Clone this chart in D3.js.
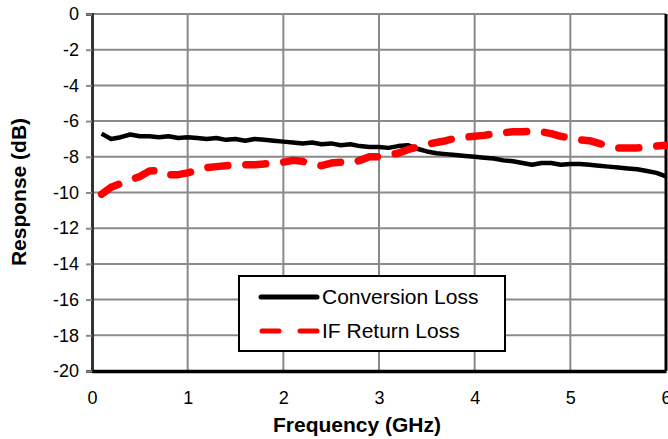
<!DOCTYPE html>
<html>
<head>
<meta charset="utf-8">
<script src="https://cdn.jsdelivr.net/npm/d3@7"></script>
<style>
  body { margin: 0; background: #fff; }
  svg text { font-family: "Liberation Sans", Arial, sans-serif; }
</style>
</head>
<body>
<div id="chart"></div>
<script>
// frequency points (GHz)
const freqs = [0.1,0.2,0.3,0.4,0.5,0.6,0.7,0.8,0.9,1.0,
               1.1,1.2,1.3,1.4,1.5,1.6,1.7,1.8,1.9,2.0,
               2.1,2.2,2.3,2.4,2.5,2.6,2.7,2.8,2.9,3.0,
               3.1,3.2,3.3,3.4,3.5,3.6,3.7,3.8,3.9,4.0,
               4.1,4.2,4.3,4.4,4.5,4.6,4.7,4.8,4.9,5.0,
               5.1,5.2,5.3,5.4,5.5,5.6,5.7,5.8,5.9,6.0]

const conversionLoss = [-6.7,-7.0,-6.9,-6.75,-6.85,-6.85,-6.9,-6.85,-6.95,-6.9,
                        -6.95,-7.0,-6.95,-7.05,-7.0,-7.1,-7.0,-7.05,-7.1,-7.15,
                        -7.2,-7.25,-7.2,-7.3,-7.25,-7.35,-7.3,-7.4,-7.45,-7.45,
                        -7.5,-7.4,-7.35,-7.55,-7.7,-7.8,-7.85,-7.9,-7.95,-8.0,
                        -8.05,-8.1,-8.2,-8.25,-8.35,-8.45,-8.35,-8.35,-8.45,-8.4,
                        -8.4,-8.45,-8.5,-8.55,-8.6,-8.65,-8.7,-8.8,-8.9,-9.1]

const ifReturnLoss = [-10.1,-9.7,-9.5,-9.3,-9.1,-8.8,-8.75,-9.0,-9.0,-8.9,
                      -8.75,-8.6,-8.55,-8.5,-8.45,-8.45,-8.45,-8.4,-8.35,-8.3,
                      -8.2,-8.25,-8.4,-8.5,-8.35,-8.3,-8.35,-8.2,-8.0,-8.0,
                      -7.9,-7.8,-7.6,-7.45,-7.3,-7.2,-7.1,-6.95,-6.9,-6.85,
                      -6.8,-6.7,-6.65,-6.6,-6.6,-6.55,-6.6,-6.7,-6.85,-6.95,
                      -7.05,-7.1,-7.25,-7.4,-7.5,-7.5,-7.5,-7.45,-7.4,-7.35]

const xTicks = [0,1,2,3,4,5,6]
const yTicks = [0,-2,-4,-6,-8,-10,-12,-14,-16,-18,-20]

const width = 668, height = 439
const plot = {left: 92, right: 666, top: 14, bottom: 371}

let svg = d3.select("#chart").append("svg")
    .attr("width", width)
    .attr("height", height)

let x = d3.scaleLinear().domain([0, 6]).range([plot.left, plot.right])
let y = d3.scaleLinear().domain([-20, 0]).range([plot.bottom, plot.top])

// grid
svg.append("g").selectAll("line").data(xTicks.slice(1, -1)).enter()
    .append("line")
    .attr("x1", d => x(d)).attr("x2", d => x(d))
    .attr("y1", plot.top).attr("y2", plot.bottom)
    .attr("stroke", "#8a8a8a").attr("stroke-width", 2)

svg.append("g").selectAll("line").data(yTicks.slice(0, -1)).enter()
    .append("line")
    .attr("x1", plot.left).attr("x2", plot.right)
    .attr("y1", d => y(d)).attr("y2", d => y(d))
    .attr("stroke", "#8a8a8a").attr("stroke-width", 2)

// y axis
let yAxis = svg.append("g")
    .attr("transform", `translate(${plot.left},0)`)
    .call(d3.axisLeft(y).tickValues(yTicks).tickSize(6).tickPadding(7).tickFormat(d => String(d)))
yAxis.select(".domain").attr("stroke", "#333").attr("stroke-width", 3)
yAxis.selectAll(".tick line").attr("stroke", "#8a8a8a").attr("stroke-width", 2)
yAxis.selectAll("text").style("font-size", "18px").attr("fill", "#000")

// x axis
let xAxis = svg.append("g")
    .attr("transform", `translate(0,${plot.bottom})`)
    .call(d3.axisBottom(x).tickValues(xTicks).tickSize(0).tickPadding(20).tickFormat(d3.format("d")))
xAxis.select(".domain").attr("stroke", "#000").attr("stroke-width", 3.5)
xAxis.selectAll("text").style("font-size", "18px").attr("fill", "#000")

// right border
svg.append("line")
    .attr("x1", plot.right).attr("x2", plot.right)
    .attr("y1", plot.top).attr("y2", plot.bottom)
    .attr("stroke", "#000").attr("stroke-width", 3)

let line = d3.line()
    .x((d, i) => x(freqs[i]))
    .y(d => y(d))

svg.append("path")
    .datum(conversionLoss)
    .attr("d", line)
    .attr("fill", "none")
    .attr("stroke", "#000")
    .attr("stroke-width", 4.5)
    .attr("stroke-linejoin", "round")

svg.append("path")
    .datum(ifReturnLoss)
    .attr("d", line)
    .attr("fill", "none")
    .attr("stroke", "#ff0000")
    .attr("stroke-width", 7.5)
    .attr("stroke-linejoin", "round")
    .attr("stroke-linecap", "round")
    .attr("stroke-dasharray", "20,18")

// axis titles
svg.append("text")
    .attr("x", 357)
    .attr("y", 432)
    .attr("text-anchor", "middle")
    .style("font-size", "21px")
    .style("font-weight", "bold")
    .text("Frequency (GHz)")

svg.append("text")
    .attr("transform", `translate(26, 192) rotate(-90)`)
    .attr("text-anchor", "middle")
    .style("font-size", "21px")
    .style("font-weight", "bold")
    .text("Response (dB)")

// legend
let legend = svg.append("g")
legend.append("rect")
    .attr("x", 239).attr("y", 276)
    .attr("width", 266).attr("height", 75)
    .attr("fill", "#fff").attr("stroke", "#000").attr("stroke-width", 2)

legend.append("line")
    .attr("x1", 261).attr("x2", 317).attr("y1", 297).attr("y2", 297)
    .attr("stroke", "#000").attr("stroke-width", 5).attr("stroke-linecap", "round")
legend.append("text")
    .attr("x", 322).attr("y", 304)
    .style("font-size", "21px")
    .text("Conversion Loss")

legend.append("line")
    .attr("x1", 262).attr("x2", 317).attr("y1", 331).attr("y2", 331)
    .attr("stroke", "#ff0000").attr("stroke-width", 5).attr("stroke-linecap", "round")
    .attr("stroke-dasharray", "17,21")
legend.append("text")
    .attr("x", 322).attr("y", 338)
    .style("font-size", "21px")
    .text("IF Return Loss")
</script>
</body>
</html>
